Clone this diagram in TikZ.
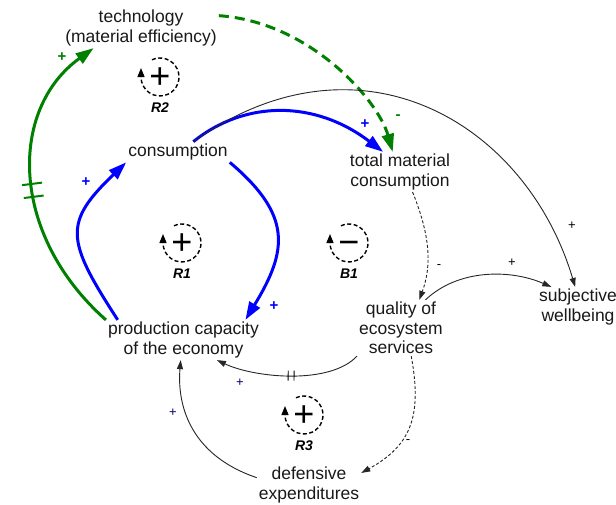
\documentclass[tikz,border=0pt]{standalone}
\usepackage{fontspec}
\setmainfont{Liberation Sans}
\usetikzlibrary{arrows.meta}
\definecolor{cldgreen}{RGB}{0,128,0}
\definecolor{cldblue}{RGB}{0,0,255}
\definecolor{cldnavy}{RGB}{0,0,110}

\tikzset{
  var/.style={align=center, inner sep=2pt, text=black!90,
    font=\fontsize{17.5}{19.5}\selectfont},
  greenlink/.style={line width=3pt, draw=cldgreen,
    -{Triangle[length=18pt,width=12pt]}},
  bluelink/.style={line width=3pt, draw=cldblue,
    -{Triangle[length=18pt,width=12pt]}},
  thinlink/.style={line width=0.9pt, draw=black!85,
    -{Triangle[length=9pt,width=6pt]}},
  dotlink/.style={thinlink, dash pattern=on 3pt off 2pt},
  pol/.style={inner sep=0pt, font=\fontsize{13}{13}\selectfont},
  bpol/.style={inner sep=0pt, font=\bfseries\fontsize{15}{15}\selectfont},
  loopline/.style={line width=1.4pt, dash pattern=on 4pt off 2.5pt,
    -{Triangle[length=9pt,width=7pt]}},
  loopsign/.style={inner sep=0pt, yshift=-1.5pt,
    font=\fontsize{36}{36}\selectfont},
  looplabel/.style={inner sep=0pt,
    font=\bfseries\itshape\fontsize{14}{14}\selectfont},
  pics/loopsym/.style 2 args={code={
    \draw[loopline] (-115:19) arc[start angle=-115, end angle=180, radius=19]
      -- ++(0,-9);
    \node[loopsign] (-sign) at (0,0) {\vphantom{+}#1};
    \node[looplabel] (-name) at (0,31) {#2};
  }}
}

\begin{document}
\begin{tikzpicture}[x=1pt,y=-1pt]
\fill[white] (0,0) rectangle (616,504);
\useasboundingbox (0,0) rectangle (616,504);

% variables
\node[var] (tech) at (141,28)   {technology\\(material efficiency)};
\node[var] (cons) at (178,152)  {consumption};
\node[var] (tmc)  at (400,172)  {total material\\consumption};
\node[var] (prod) at (183.5,340){production capacity\\of the economy};
\node[var] (qes)  at (401,328)  {quality of\\ecosystem\\services};
\node[var] (swb)  at (578,307)  {subjective\\wellbeing};
\node[var] (def)  at (309,485)  {defensive\\expenditures};

% technology loop (green)
\draw[greenlink] (prod.north west) .. controls (10,235) and (8,110) .. (tech.203)
  node[pos=.45, sloped, inner sep=0pt, text=cldgreen]
  {\rule[-10pt]{2pt}{20pt}\hspace{11pt}\rule[-10pt]{2pt}{20pt}};
\draw[greenlink, dash pattern=on 10pt off 6pt]
  (tech.9) .. controls (310,22) and (378,100) .. (tmc.110);

% growth loop (blue)
\draw[bluelink] (cons.34) .. controls (245,100) and (315,100) .. (tmc.130);
\draw[bluelink] (prod.163) .. controls (66,240) and (63,223) .. (cons.south west);
\draw[bluelink] (cons.south east) .. controls (292,215) and (288,250) .. (prod.18);

% thin links
\draw[thinlink] (cons.34) .. controls (359,24) and (526,122) .. (swb.98);
\draw[dotlink] (tmc.-58) .. controls (430,235) and (432,265) .. (qes.57);
\draw[thinlink] (qes.49) .. controls (458,269) and (510,269) .. (swb.143);
\draw[thinlink] (qes.south west) .. controls (330,385) and (255,378) .. (prod.-31)
  node[pos=.5, sloped, inner sep=0pt]
  {\rule[-5pt]{0.9pt}{10pt}\hspace{5pt}\rule[-5pt]{0.9pt}{10pt}};
\draw[thinlink] (def.172) .. controls (190,455) and (177,405) .. (prod.-98);
\draw[dotlink] (qes.-70) .. controls (422,415) and (412,445) .. (def.13);

% polarities
\node[bpol, text=cldgreen] (pA) at (62,57)   {+};
\node[bpol, text=cldgreen] (pB) at (398,117) {-};
\node[bpol, text=cldblue]  (pC) at (365,124) {+};
\node[bpol, text=cldblue]  (pD) at (86,182)  {+};
\node[bpol, text=cldblue]  (pE) at (274,306) {+};
\node[pol] (pF) at (572,226) {+};
\node[pol] (pG) at (439,267) {-};
\node[pol] (pH) at (512,263) {+};
\node[pol, text=cldnavy] (pI) at (240,383) {+};
\node[pol, text=cldnavy] (pJ) at (173,413) {+};
\node[pol] (pK) at (408,442) {-};

% loop markers
\pic (r2) at (160,77)  {loopsym={+}{R2}};
\pic (r1) at (182,243) {loopsym={+}{R1}};
\pic (b1) at (349,243) {loopsym={−}{B1}};
\pic (r3) at (304,415) {loopsym={+}{R3}};
\end{tikzpicture}
\end{document}
